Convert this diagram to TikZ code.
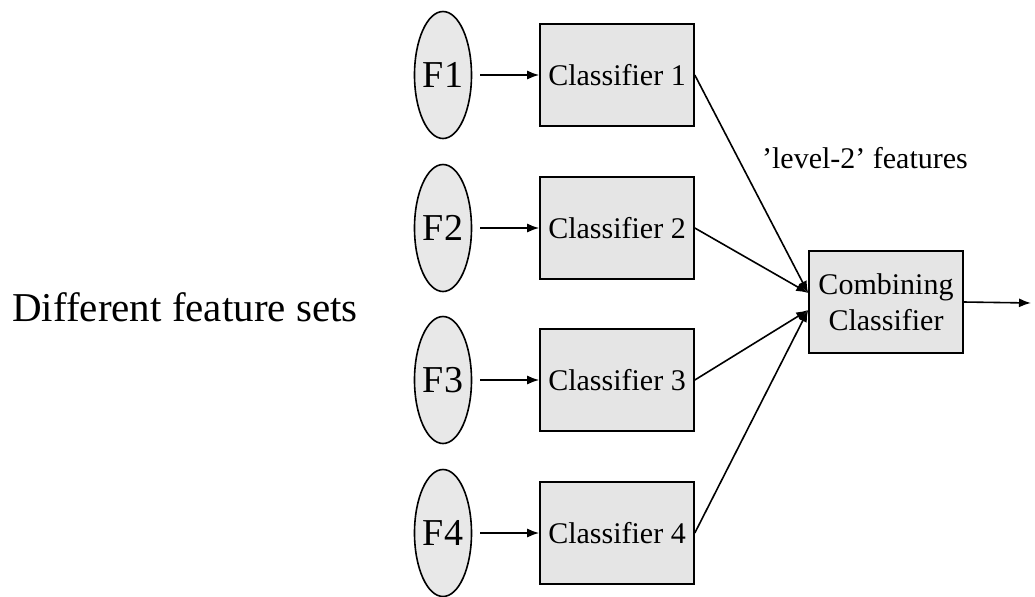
\documentclass[tikz,border=0pt]{standalone}
\usepackage{fontspec}
\setmainfont{Liberation Serif}
\usetikzlibrary{arrows.meta,shapes.geometric,positioning,calc}

\tikzset{
  feat/.style = {ellipse, draw, thick, fill=gray!18, minimum width=28.5pt, minimum height=63.5pt, inner sep=0pt, font=\fontsize{19}{22}\selectfont},
  clf/.style = {rectangle, draw, thick, fill=gray!20, minimum width=77pt, minimum height=51pt, inner sep=0pt, font=\fontsize{15}{17}\selectfont},
  arr/.style = {-{Latex[length=6pt,width=4.5pt]}, thick}
}

\begin{document}
\begin{tikzpicture}[x = .5pt, y = -.5pt]
\fill[white] (0,0) rectangle (1035,596);
\useasboundingbox (0,0) rectangle (1035,596);
\node[font = \fontsize{20.5}{23}\selectfont] (sets) at (185,307) {Different feature sets};
\node[feat] (f1) at (443,75) {F1};
\node[feat] (f2) at (443,228) {F2};
\node[feat] (f3) at (443,380) {F3};
\node[feat] (f4) at (443,533) {F4};
\node[clf] (c1) at (617,75) {Classifier 1};
\node[clf] (c2) at (617,228) {Classifier 2};
\node[clf] (c3) at (617,380) {Classifier 3};
\node[clf] (c4) at (617,533) {Classifier 4};
\node[clf, align = center, font = \fontsize{15}{18}\selectfont] (comb) at (886,302) {Combining\\Classifier};
\node[font = \fontsize{15}{17}\selectfont] (lvl) at (865,158) {'level-2' features};
\coordinate (in1) at ([yshift = 4.5pt]comb.west);
\coordinate (in2) at ([yshift = -4pt]comb.west);
\coordinate (out) at (1031,303);
\foreach \i in {1,2,3,4}
  \draw[arr, shorten <= 4pt] (f\i) -- (c\i);
\draw[arr] (c1.east) -- (in1);
\draw[arr] (c2.east) -- (in1);
\draw[arr] (c3.east) -- (in2);
\draw[arr] (c4.east) -- (in2);
\draw[arr] (comb.east) -- (out);
\end{tikzpicture}
\end{document}
